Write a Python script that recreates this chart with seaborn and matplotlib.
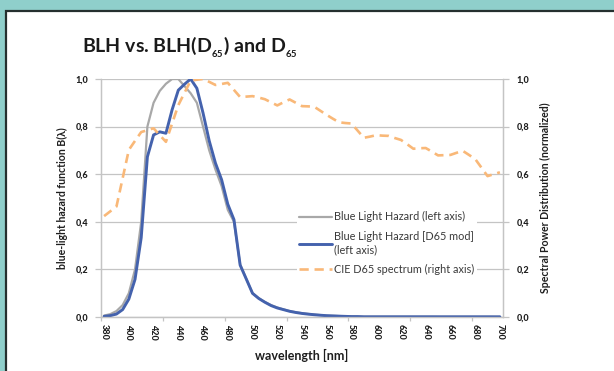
import matplotlib
matplotlib.use("Agg")
import matplotlib.pyplot as plt
import seaborn as sns
import numpy as np
import pandas as pd
from matplotlib.patches import Rectangle
from matplotlib.lines import Line2D

# ---------------- data ----------------
wavelength = list(range(380, 701, 5))

blh = [0.006, 0.012, 0.025, 0.05, 0.10, 0.20, 0.40, 0.80, 0.90, 0.95,
       0.98, 1.00, 1.00, 0.97, 0.94, 0.90, 0.80, 0.70, 0.62, 0.55,
       0.45, 0.40, 0.22, 0.16, 0.10, 0.079, 0.063, 0.050, 0.040, 0.032,
       0.025, 0.020, 0.016, 0.013, 0.010, 0.008, 0.006, 0.005, 0.004, 0.003,
       0.002, 0.002, 0.001, 0.001, 0.001, 0.001, 0.001, 0.001, 0.001, 0.001,
       0.001, 0.001, 0.001, 0.001, 0.001, 0.001, 0.001, 0.001, 0.001, 0.001,
       0.001, 0.001, 0.001, 0.001, 0.001]

blh_d65 = [0.0027, 0.0057, 0.0124, 0.0312, 0.0752, 0.158, 0.333, 0.673, 0.765, 0.778,
           0.772, 0.871, 0.953, 0.978, 1.000, 0.961, 0.857, 0.740, 0.647, 0.577,
           0.474, 0.409, 0.218, 0.159, 0.0995, 0.078, 0.062, 0.048, 0.038, 0.031,
           0.024, 0.019, 0.015, 0.012, 0.0095, 0.0074, 0.0055, 0.0045, 0.0035, 0.0026,
           0.0017, 0.0017, 0.0008, 0.0008, 0.0008, 0.0008, 0.0008, 0.0008, 0.0008, 0.0008,
           0.0008, 0.0008, 0.0008, 0.0008, 0.0007, 0.0007, 0.0007, 0.0007, 0.0007, 0.0007,
           0.0007, 0.0007, 0.0007, 0.0006, 0.0006]

d65 = [0.424, 0.444, 0.464, 0.583, 0.702, 0.740, 0.777, 0.785, 0.793, 0.764,
       0.736, 0.813, 0.890, 0.942, 0.993, 0.997, 1.000, 0.988, 0.975, 0.979,
       0.984, 0.954, 0.924, 0.926, 0.928, 0.922, 0.915, 0.902, 0.889, 0.902,
       0.914, 0.900, 0.886, 0.885, 0.883, 0.866, 0.849, 0.833, 0.818, 0.815,
       0.813, 0.783, 0.753, 0.758, 0.764, 0.762, 0.761, 0.752, 0.744, 0.726,
       0.707, 0.709, 0.710, 0.695, 0.679, 0.680, 0.681, 0.690, 0.698, 0.681,
       0.664, 0.628, 0.592, 0.600, 0.608]

xtick_labels = list(range(380, 701, 20))
ytick_vals = [0.0, 0.2, 0.4, 0.6, 0.8, 1.0]

labels = ["Blue Light Hazard (left axis)",
          "Blue Light Hazard [D65 mod]\n(left axis)",
          "CIE D65 spectrum (right axis)"]

df = pd.DataFrame({"wavelength": wavelength, "blh": blh, "blh_d65": blh_d65, "d65": d65})

# ---------------- style ----------------
sns.set_theme(style="white")
plt.rcParams["font.family"] = ["Lato", "DejaVu Sans"]
plt.rcParams["mathtext.fontset"] = "custom"
plt.rcParams["mathtext.rm"] = "Lato:bold"
plt.rcParams["mathtext.bf"] = "Lato:bold"
plt.rcParams["mathtext.it"] = "Lato:bold"

TEAL = "#8fcfcb"
GRAY = "#a8a8a8"
BLUE = "#4462ad"
ORANGE = "#f9b878"
GRID = "#c4c4c4"
TXT = "#1e1e1e"
HEAVY = 900

W, H = 614, 371
fig = plt.figure(figsize=(W / 100, H / 100), dpi=100, facecolor=TEAL)

# white panel with dark outline
panel = Rectangle((6 / W, -0.05), 1.1, (H - 11) / H + 0.05, transform=fig.transFigure,
                  facecolor="white", edgecolor="#25302f", linewidth=1.6, zorder=-10)
fig.patches.append(panel)

L, R, T, B = 101, 503, 79, 317
ax = fig.add_axes([L / W, 1 - B / H, (R - L) / W, (B - T) / H], zorder=1)
ax.set_facecolor("none")
ax2 = ax.twinx()
ax2.set_facecolor("none")

sns.lineplot(data=df, x="wavelength", y="blh", ax=ax, color=GRAY, linewidth=1.6, zorder=3)
sns.lineplot(data=df, x="wavelength", y="blh_d65", ax=ax, color=BLUE, linewidth=2.1, zorder=4)
sns.lineplot(data=df, x="wavelength", y="d65", ax=ax2, color=ORANGE, linewidth=1.9, zorder=3)
ax2.lines[0].set_dashes((3.5, 2.2))

for a in (ax, ax2):
    a.set_xlim(377.5, 702.5)
    a.set_ylim(0, 1.0)
    a.set_yticks(ytick_vals)
    a.set_yticklabels([f"{v:.1f}".replace(".", ",") for v in ytick_vals],
                      fontsize=6.5, fontweight=HEAVY, color=TXT)
    for s in a.spines.values():
        s.set_color(GRID)
        s.set_linewidth(0.9)
    a.spines["top"].set_visible(False)

ax.yaxis.grid(True, color=GRID, linewidth=0.9)
ax.set_axisbelow(True)
ax2.grid(False)

ax.tick_params(axis="y", which="major", left=True, length=4, width=0.9, color=GRID, pad=5)
ax2.tick_params(axis="y", which="major", right=True, length=4, width=0.9, color=GRID, pad=6)

ax.set_xticks(xtick_labels)
ax.set_xticklabels([str(v) for v in xtick_labels], rotation=-90, fontsize=6.5,
                   fontweight=HEAVY, color=TXT)
ax.set_xticks(np.arange(377.5, 680, 50), minor=True)
ax.tick_params(axis="x", which="major", length=0, pad=5)
ax.tick_params(axis="x", which="minor", bottom=True, length=3, width=0.9, color=GRID)
ax2.tick_params(axis="x", which="both", length=0)

ax.set_xlabel("wavelength [nm]", fontsize=9, fontweight="bold", color=TXT)
ax.xaxis.set_label_coords(0.5, -0.135)
ax.set_ylabel("blue-light hazard function B(λ)", fontsize=7.6, fontweight="bold", color=TXT)
ax.yaxis.set_label_coords(-0.083, 0.5)
ax2.set_ylabel("Spectral Power Distribution (normalized)", fontsize=7.6, fontweight="bold", color=TXT)
ax2.yaxis.set_label_coords(1.092, 0.5)

handles = [Line2D([], [], color=GRAY, lw=1.6),
           Line2D([], [], color=BLUE, lw=2.1),
           Line2D([], [], color=ORANGE, lw=1.9, dashes=(3.5, 2.2))]
leg = ax2.legend(handles, labels, loc="upper left", bbox_to_anchor=(0.487, 0.455),
                 frameon=True, fancybox=False, framealpha=1, edgecolor="none",
                 facecolor="white", fontsize=7.8, handlelength=3.0, handletextpad=0.2,
                 labelspacing=0.8, borderpad=0.25, borderaxespad=0)
for t in leg.get_texts():
    t.set_color("#3a3a3a")

fig.text(82 / W, 1 - 53 / H, r"BLH vs. BLH(D$_{\mathbf{_{65}}}$) and D$_{\mathbf{_{65}}}$",
         fontsize=14, fontweight="bold", color="#1a1a1a", ha="left", va="baseline")

fig.savefig("out.png", dpi=100, facecolor=TEAL)
